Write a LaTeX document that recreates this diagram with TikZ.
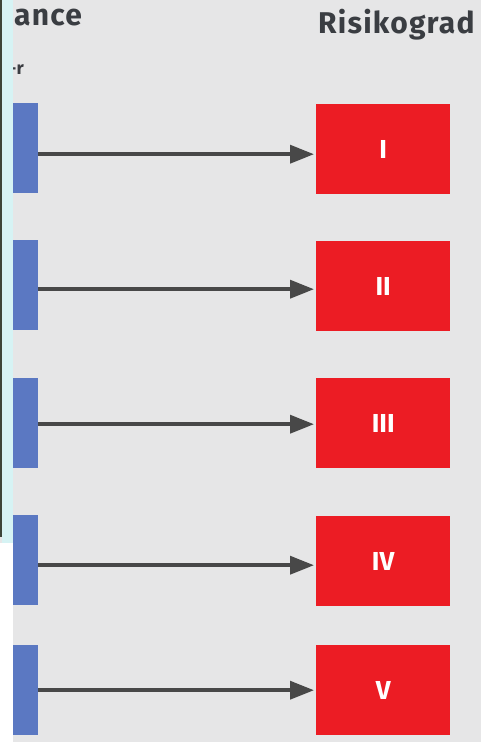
\documentclass[tikz,border=0pt]{standalone}
\usepackage{fontspec}
\setmainfont{Fira Sans}
\newfontfamily\headfont[LetterSpace=4]{Fira Sans}
\usetikzlibrary{arrows.meta}
\definecolor{bggrey}{HTML}{E6E6E7}
\definecolor{stripcyan}{HTML}{D6F3F4}
\definecolor{edgedark}{HTML}{3C4539}
\definecolor{barblue}{HTML}{5B78C2}
\definecolor{gradred}{HTML}{EC1C24}
\definecolor{arrowgrey}{HTML}{484848}
\definecolor{headtext}{HTML}{3A3D42}
\tikzset{
  bar/.style={fill=barblue, draw=none, minimum width=25pt, minimum height=90pt, inner sep=0pt, anchor=north west},
  grade/.style={fill=gradred, draw=none, minimum width=134pt, minimum height=90pt, inner sep=0pt, anchor=north west,
    text=white, font=\bfseries\fontsize{26}{26}\selectfont},
  link/.style={draw=arrowgrey, line width=3.5pt, -{Triangle[length=24pt,width=18pt]}, shorten >=2pt},
  heading/.style={text=headtext, font=\headfont\bfseries\fontsize{30}{30}\selectfont, inner sep=0pt, anchor=north west}
}
\begin{document}
\begin{tikzpicture}[x=1pt,y=-1pt]
  \useasboundingbox (0,0) rectangle (481,742);
  % page background and left border strip
  \fill[bggrey] (0,0) rectangle (481,742);
  \fill[white] (0,543) rectangle (13,742);
  \fill[stripcyan] (2,0) rectangle (13,543);
  \fill[edgedark] (0,0) rectangle (2,537);
  % column headings (left one runs off the edge)
  \begin{scope}
    \clip (13,0) rectangle (481,742);
    \node[heading] (hleft) at (14,9) {ance};
    \node[heading, font=\bfseries\fontsize{18}{18}\selectfont] (hsub) at (9,64) {-r};
  \end{scope}
  \node[heading] (hright) at (318,9) {Risikograd};
  % left bars
  \node[bar] (b1) at (13,103) {};
  \node[bar] (b2) at (13,240) {};
  \node[bar] (b3) at (13,378) {};
  \node[bar] (b4) at (13,515) {};
  \node[bar] (b5) at (13,645) {};
  % risk grades
  \node[grade] (r1) at (316,104) {I};
  \node[grade] (r2) at (316,241) {II};
  \node[grade] (r3) at (316,378) {III};
  \node[grade] (r4) at (316,516) {IV};
  \node[grade] (r5) at (316,645) {V};
  % connectors
  \draw[link] ([yshift=-6pt]b1.east) -- ([yshift=-6pt]b1.east -| r1.west);
  \draw[link] ([yshift=-4pt]b2.east) -- ([yshift=-4pt]b2.east -| r2.west);
  \draw[link] ([yshift=-1pt]b3.east) -- ([yshift=-1pt]b3.east -| r3.west);
  \draw[link] ([yshift=-5pt]b4.east) -- ([yshift=-5pt]b4.east -| r4.west);
  \draw[link] (b5.east) -- (b5.east -| r5.west);
\end{tikzpicture}
\end{document}
